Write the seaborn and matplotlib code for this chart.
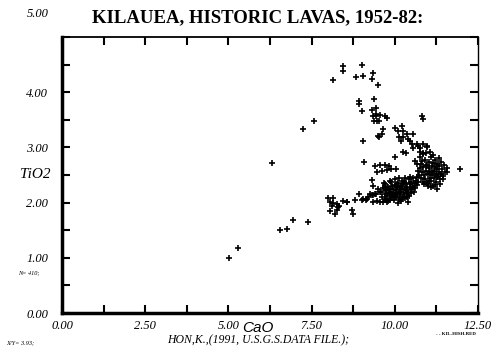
import numpy as np
import pandas as pd
import matplotlib
matplotlib.use('Agg')
import matplotlib.pyplot as plt
import seaborn as sns

# CaO / TiO2 values, grouped by area

# low-CaO tail
cao_tail = [5.03, 5.30, 6.30, 6.55, 6.77, 6.95, 7.40, 7.25, 7.57]
tio2_tail = [1.00, 1.18, 2.71, 1.50, 1.53, 1.69, 1.65, 3.34, 3.47]

# high-TiO2 arm
cao_arm = [8.13, 8.44, 8.43, 9.00, 8.82, 9.04, 9.34, 9.31, 9.50,
           8.92, 8.92, 9.00, 9.38, 9.44, 9.30, 9.44, 9.38, 9.48,
           9.35, 9.45, 9.56, 9.71, 9.78, 9.53, 10.81, 10.86,
           9.65, 9.61, 9.53, 9.05, 9.50,
           10.01, 10.21, 10.11, 10.26, 10.36, 10.56, 10.13, 10.26, 10.41,
           10.18, 10.46, 10.51, 10.66, 10.71, 10.86, 10.96, 10.76, 10.56,
           10.76, 10.86, 10.26, 10.34, 10.01, 10.61, 10.66, 10.98]
tio2_arm = [4.22, 4.48, 4.39, 4.49, 4.28, 4.30, 4.34, 4.24, 4.13,
            3.84, 3.78, 3.66, 3.88, 3.72, 3.68, 3.57, 3.48, 3.47,
            3.57, 3.60, 3.59, 3.56, 3.53, 3.48, 3.57, 3.51,
            3.33, 3.25, 3.18, 3.11, 3.21,
            3.36, 3.38, 3.30, 3.29, 3.24, 3.24, 3.18, 3.18, 3.15,
            3.12, 3.11, 3.06, 3.07, 3.03, 3.06, 3.03, 2.99, 2.99,
            2.91, 2.89, 2.91, 2.89, 2.82, 2.76, 2.70, 3.00]

# middle band and low-CaO branch
cao_mid = [9.08, 9.41, 9.56, 9.71, 9.83, 9.46, 9.61, 9.76, 9.90, 10.04,
           9.31, 9.35, 9.50, 9.56, 9.71, 9.76, 9.90, 10.06,
           11.96, 11.56, 11.26, 11.16, 11.01,
           8.00, 8.15, 8.05, 8.15, 8.25, 8.10, 8.30, 8.05, 8.25, 8.20,
           8.70, 8.75, 8.45, 8.55, 8.80, 8.93, 9.05, 9.20, 9.30, 9.41,
           9.35, 9.56, 9.76, 9.86, 9.25, 9.16, 9.13, 9.00, 8.57, 8.33,
           9.35, 9.45, 9.61, 9.71, 9.86, 10.01, 10.21, 9.65, 9.80, 9.48]
tio2_mid = [2.73, 2.67, 2.69, 2.69, 2.67, 2.55, 2.58, 2.59, 2.61, 2.61,
            2.41, 2.31, 2.25, 2.19, 2.33, 2.22, 2.37, 2.28,
            2.61, 2.55, 2.25, 2.31, 2.34,
            2.09, 2.09, 2.01, 1.99, 1.98, 1.93, 1.92, 1.85, 1.86, 1.79,
            1.86, 1.80, 2.03, 2.01, 2.04, 2.16, 2.06, 2.10, 2.13, 2.16,
            2.01, 2.01, 2.01, 2.04, 2.16, 2.07, 2.05, 2.04, 2.01, 1.93,
            2.13, 2.16, 2.10, 2.07, 2.13, 2.10, 2.07, 2.01, 2.03, 2.03]

# dense lower cluster
cao_low = [9.60, 9.65, 9.70, 9.72, 9.75, 9.78, 9.80, 9.82, 9.85, 9.88,
           9.90, 9.92, 9.95, 9.96, 9.98, 10.00, 10.02, 10.04, 10.05, 10.07,
           10.08, 10.10, 10.12, 10.13, 10.15, 10.16, 10.18, 10.20, 10.21, 10.23,
           10.24, 10.26, 10.28, 10.30, 10.31, 10.33, 10.35, 10.36, 10.38, 10.40,
           10.42, 10.43, 10.45, 10.47, 10.48, 10.50, 10.52, 10.54, 10.56, 10.58,
           10.60, 10.62, 10.64, 10.66, 10.68, 10.70, 9.68, 9.74, 9.86, 10.00,
           10.10, 10.20, 10.32, 10.40, 9.92, 10.06, 10.14, 10.27, 10.38, 10.46]
tio2_low = [2.20, 2.26, 2.15, 2.30, 2.22, 2.12, 2.28, 2.18, 2.24, 2.08,
            2.20, 2.30, 2.14, 2.25, 2.05, 2.18, 2.32, 2.22, 2.10, 2.28,
            2.16, 2.35, 2.20, 2.06, 2.26, 2.13, 2.30, 2.19, 2.40, 2.24,
            2.11, 2.33, 2.18, 2.27, 2.08, 2.22, 2.36, 2.15, 2.29, 2.20,
            2.42, 2.12, 2.26, 2.33, 2.18, 2.38, 2.24, 2.30, 2.44, 2.20,
            2.35, 2.27, 2.40, 2.32, 2.46, 2.38, 2.36, 2.05, 2.40, 2.42,
            2.00, 2.03, 2.45, 2.02, 2.12, 2.34, 2.44, 2.38, 2.10, 2.47]

# dense upper-right cluster
cao_high = [10.72, 10.75, 10.78, 10.80, 10.82, 10.84, 10.86, 10.88, 10.90, 10.92,
            10.94, 10.96, 10.98, 11.00, 11.02, 11.03, 11.05, 11.07, 11.08, 11.10,
            11.12, 11.13, 11.15, 11.17, 11.18, 11.20, 11.22, 11.23, 11.25, 11.27,
            11.28, 11.30, 11.32, 11.34, 11.36, 11.38, 11.40, 11.42, 11.45, 11.48,
            11.50, 10.76, 10.85, 10.95, 11.05, 11.15, 10.88, 11.00, 11.10, 11.20,
            11.35, 10.70, 10.82, 10.93, 11.04, 11.12, 11.26, 11.33, 11.44, 11.56]
tio2_high = [2.50, 2.62, 2.45, 2.70, 2.55, 2.38, 2.65, 2.50, 2.78, 2.43,
             2.58, 2.68, 2.35, 2.52, 2.74, 2.62, 2.45, 2.56, 2.82, 2.40,
             2.66, 2.50, 2.72, 2.58, 2.44, 2.64, 2.78, 2.52, 2.38, 2.60,
             2.70, 2.48, 2.56, 2.66, 2.42, 2.52, 2.74, 2.60, 2.48, 2.68,
             2.55, 2.82, 2.88, 2.90, 2.92, 2.86, 2.33, 2.30, 2.28, 2.32,
             2.34, 2.58, 2.76, 2.66, 2.40, 2.55, 2.46, 2.80, 2.42, 2.62]

df = pd.DataFrame({
    'CaO': cao_tail + cao_arm + cao_mid + cao_low + cao_high,
    'TiO2': tio2_tail + tio2_arm + tio2_mid + tio2_low + tio2_high,
})

x_ticks = np.arange(0, 12.51, 1.25)
x_labels = ['0.00', '', '2.50', '', '5.00', '', '7.50', '', '10.00', '', '12.50']
y_ticks = np.arange(0, 5.01, 0.5)
y_labels = ['0.00', '', '1.00', '', '2.00', '', '3.00', '', '4.00', '', '']

sns.set_style('ticks')
plt.rcParams['font.family'] = ['Liberation Serif', 'DejaVu Serif']
plt.rcParams['text.color'] = 'black'
plt.rcParams['xtick.color'] = 'black'
plt.rcParams['ytick.color'] = 'black'

fig = plt.figure(figsize=(5.0, 3.59), dpi=100)
ax = fig.add_axes([0.124, 0.128, 0.832, 0.769])

sns.scatterplot(data=df, x='CaO', y='TiO2', marker='+', color='black',
                s=18, linewidth=1.2, ax=ax, legend=False)

ax.set_xlim(0, 12.5)
ax.set_ylim(0, 5)
ax.set_xticks(x_ticks)
ax.set_xticklabels(x_labels, fontstyle='italic', fontsize=9)
ax.set_yticks(y_ticks)
ax.set_yticklabels(y_labels, fontstyle='italic', fontsize=9)
ax.tick_params(direction='in', length=6, width=1.5, top=True, right=True,
               color='black', labelcolor='black', pad=5)
ax.tick_params(axis='y', pad=10)
ax.set_xlabel('')
ax.set_ylabel('')

# scanned frame: heavy left/bottom, lighter top/right
ax.spines['left'].set_linewidth(2.5)
ax.spines['bottom'].set_linewidth(2.5)
ax.spines['top'].set_linewidth(1.3)
ax.spines['right'].set_linewidth(1.0)
for s in ax.spines.values():
    s.set_color('black')
    s.set_visible(True)

fig.text(0.516, 0.95, 'KILAUEA, HISTORIC LAVAS, 1952-82:', ha='center', va='center',
         fontsize=13.5, fontweight='bold')
fig.text(0.075, 0.96, '5.00', ha='center', va='center', fontsize=9, fontstyle='italic')
fig.text(0.07, 0.513, 'TiO2', ha='center', va='center', fontsize=11, fontstyle='italic')
fig.text(0.036, 0.242, 'N= 410;', ha='left', va='center', fontsize=4.5, fontstyle='italic')
fig.text(0.012, 0.047, 'X/Y= 3.93;', ha='left', va='center', fontsize=4.5, fontstyle='italic')
fig.text(0.516, 0.087, 'CaO', ha='center', va='center', fontsize=11,
         family=['Liberation Sans', 'DejaVu Sans'], fontstyle='italic')
fig.text(0.516, 0.053, 'HON,K.,(1991, U.S.G.S.DATA FILE.);', ha='center', va='center',
         fontsize=8.5, fontstyle='italic')
fig.text(0.872, 0.07, '- - KIL-HISH.RED', ha='left', va='center', fontsize=3.5,
         fontweight='bold')

fig.savefig('out.png', dpi=100, facecolor='white')
